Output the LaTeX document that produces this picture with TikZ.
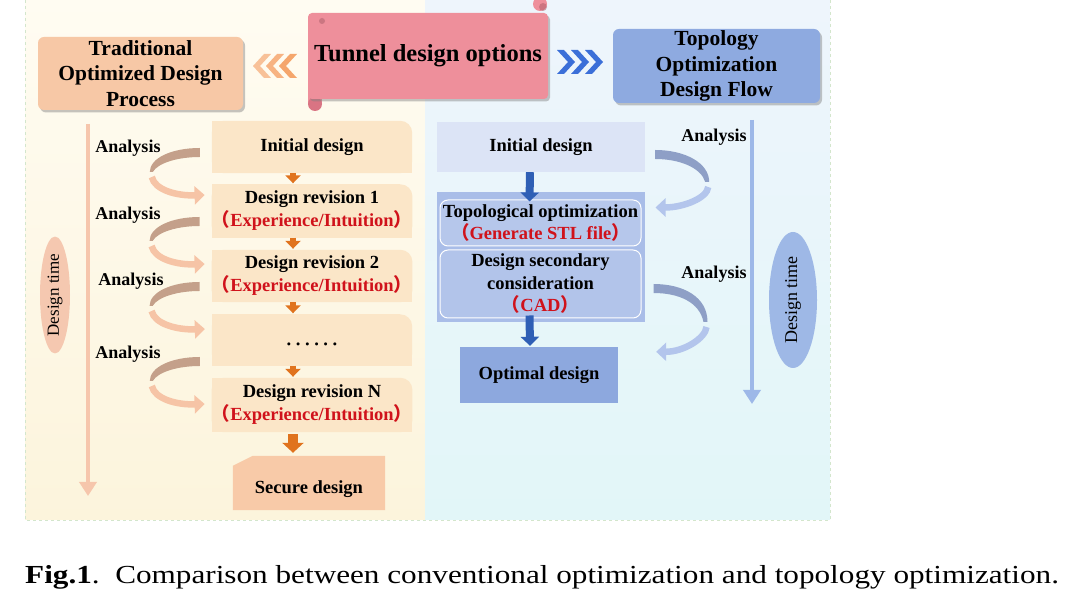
\documentclass[tikz,border=0pt]{standalone}
\usepackage{fontspec}
\setmainfont{Liberation Serif}
\newfontfamily\cjk{Noto Sans CJK SC}
\usetikzlibrary{arrows.meta,shadows,calc,shapes.geometric}
\pgfdeclarelayer{back}\pgfdeclarelayer{mid}\pgfsetlayers{back,mid,main}
\definecolor{lbg1}{HTML}{FFFCF2}
\definecolor{lbg2}{HTML}{FCF4DC}
\definecolor{rbg1}{HTML}{EEF5FC}
\definecolor{rbg2}{HTML}{E2F6F8}
\definecolor{lboxc}{HTML}{FBE6C8}
\definecolor{secc}{HTML}{F8CAA8}
\definecolor{peachH}{HTML}{F7C8A6}
\definecolor{pinkH}{HTML}{EE8F9B}
\definecolor{pinkD}{HTML}{D97483}
\definecolor{blueH}{HTML}{8EAAE0}
\definecolor{rinitc}{HTML}{DCE4F6}
\definecolor{bigc}{HTML}{A9BDE8}
\definecolor{optc}{HTML}{8DA8DE}
\definecolor{redT}{HTML}{D0121B}
\definecolor{orArr}{HTML}{E0731E}
\definecolor{blArr}{HTML}{2F5FB5}
\definecolor{lbrown}{HTML}{C4A08A}
\definecolor{lpeach}{HTML}{F6C4A6}
\definecolor{rdark}{HTML}{8E9FC6}
\definecolor{rlight}{HTML}{B3C5EC}
\definecolor{laxis}{HTML}{F6C6AC}
\definecolor{raxis}{HTML}{9DB8E8}
\definecolor{lell}{HTML}{F5C8B0}
\definecolor{rell}{HTML}{9EB8E6}
\definecolor{chevO}{HTML}{F5A66C}
\definecolor{chevB}{HTML}{3B6FD8}
\definecolor{dashc}{HTML}{D3E6CC}
\tikzset{
  txt/.style={align=center, inner sep=0pt, font=\bfseries\fontsize{18.5}{23}\selectfont},
  lbox/.style={txt, minimum width=200, minimum height=52},
  hdr/.style={align=center, inner sep=0pt, font=\bfseries\fontsize{21.5}{25.5}\selectfont,
     rounded corners=6, drop shadow={shadow xshift=2pt, shadow yshift=-2.5pt, opacity=0.45}},
  ana/.style={font=\bfseries\fontsize{18}{20}\selectfont, inner sep=0pt},
  smallarrL/.style={orArr, line width=6, -{Triangle[length=8pt,width=15pt]}},
  smallarrR/.style={blArr, line width=8, -{Triangle[length=9pt,width=18pt]}},
  timeell/.style={ellipse, inner sep=0pt, font=\fontsize{17}{19}\selectfont, rotate=90},
}
\newcommand\red[1]{\textcolor{redT}{{\cjk （}#1{\cjk ）}}}
% box with rounded top-right corner
\newcommand\tabfill[2]{%
  \fill[#2, rounded corners=12] (#1.south west) rectangle (#1.north east);
  \fill[#2] (#1.south west) rectangle ([xshift=-12pt]#1.north east);
  \fill[#2] (#1.south west) rectangle ([yshift=-12pt]#1.north east);
}
% left loop: #1 start, #2 end
\newcommand\lloop[2]{%
  \fill[lbrown] (#1) .. controls ($(#1)+(-28,0)$) and ($(#1)+(-50,10)$) .. ($(#1)+(-50,24)$)
     -- ($(#1)+(-47,24)$) .. controls ($(#1)+(-42,15)$) and ($(#1)+(-22,9)$) .. ($(#1)+(0,9)$) -- cycle;
  \draw[lpeach, line width=6.5, -{Triangle[length=10pt,width=18pt]}]
     ($(#1)+(-48,29)$) .. controls ($(#1)+(-45,42)$) and ($(#2)+(-28,1)$) .. (#2);
}
% right loop
\newcommand\rloop[3]{%
  \fill[rdark] (#1) .. controls ($(#1)+(30,0)$) and ($(#1)+(54,13)$) .. ($(#1)+(54,#3)$)
     -- ($(#1)+(50,#3)$) .. controls ($(#1)+(46,18)$) and ($(#1)+(25,9)$) .. ($(#1)+(0,9)$) -- cycle;
  \draw[rlight, line width=6.5, -{Triangle[length=10pt,width=18pt]}]
     ($(#1)+(53,#3+5)$) .. controls ($(#1)+(52,#3+16)$) and ($(#2)+(28,0)$) .. (#2);
}
\newcommand\chevL[3]{% x, y, color
  \fill[#3] (#1,#2) -- (#1+11,#2-12) -- (#1+18,#2-12) -- (#1+7,#2) -- (#1+18,#2+12) -- (#1+11,#2+12) -- cycle;}
\newcommand\chevR[3]{%
  \fill[#3] (#1,#2) -- (#1-11,#2-12) -- (#1-18,#2-12) -- (#1-7,#2) -- (#1-18,#2+12) -- (#1-11,#2+12) -- cycle;}
\begin{document}
\begin{tikzpicture}[x=1pt,y=-1pt]
\useasboundingbox (0,0) rectangle (1080,601);
\begin{pgfonlayer}{back}
  \fill[white] (0,0) rectangle (1080,601);
  \shade[top color=lbg1, bottom color=lbg2] (25,0) rectangle (425,520);
  \shade[top color=rbg1, bottom color=rbg2] (425,0) rectangle (830,520);
  \draw[dashc, dashed, line width=0.8] (25,0) -- (25,520) -- (830,520) -- (830,0);
\end{pgfonlayer}

% headers
\node[hdr, fill=peachH, minimum width=205, minimum height=73] (trad) at (140.5,73.5)
  {Traditional\\Optimized Design\\Process};
\fill[pinkH] (308,90) rectangle (322,104);
\fill[pinkD] (315,104) circle (7);
\fill[pinkH] (540,4) circle (7);
\fill[pinkD!80!black, opacity=0.5] (543,7) circle (4);
\node[hdr, fill=pinkH, rounded corners=4, minimum width=240, minimum height=86,
      font=\bfseries\fontsize{24.5}{28}\selectfont] (tunnel) at (428,56) {Tunnel design options};
\fill[pinkD!70!black, opacity=0.4] (322,21) circle (3);
\node[hdr, fill=blueH, minimum width=207, minimum height=74] (topo) at (716.5,66)
  {Topology\\Optimization\\Design Flow};
\chevL{253}{66}{chevO!70}
\chevL{266}{66}{chevO!85}
\chevL{279}{66}{chevO}
\chevR{575}{62}{chevB}
\chevR{589}{62}{chevB}
\chevR{603}{62}{chevB}

% left column
\node[lbox] (init) at (312,147) {Initial design};
\node[lbox, minimum height=53] (rev1) at (312,211) {Design revision 1\\\red{Experience/Intuition}};
\node[lbox] (rev2) at (312,276) {Design revision 2\\\red{Experience/Intuition}};
\node[lbox, minimum height=51] (dots) at (312,340) {};
\node[txt] (dotsT) at ($(dots.center)+(0,7)$) {\textperiodcentered\,\textperiodcentered\,\textperiodcentered\,\textperiodcentered\,\textperiodcentered\,\textperiodcentered};
\node[lbox, minimum height=54] (revN) at (312,405) {Design revision N\\\red{Experience/Intuition}};
\node[txt, minimum width=152, minimum height=54] (sec) at (309,489) {Secure design};
\begin{pgfonlayer}{mid}
  \tabfill{init}{lboxc}
  \tabfill{rev1}{lboxc}
  \tabfill{rev2}{lboxc}
  \tabfill{dots}{lboxc}
  \tabfill{revN}{lboxc}
  \fill[secc] ([yshift=6pt]sec.south west) -- ([yshift=-4pt]sec.north west) -- ([xshift=20pt,yshift=6pt]sec.north west) -- ([yshift=6pt]sec.north east) -- ([yshift=6pt]sec.south east) -- cycle;
\end{pgfonlayer}
\draw[smallarrL] ([xshift=-19pt]init.south) -- ([xshift=-19pt,yshift=1pt]rev1.north);
\draw[smallarrL] ([xshift=-19pt]rev1.south) -- ([xshift=-19pt,yshift=1pt]rev2.north);
\draw[smallarrL] ([xshift=-19pt]rev2.south) -- ([xshift=-19pt,yshift=1pt]dots.north);
\draw[smallarrL] ([xshift=-19pt]dots.south) -- ([xshift=-19pt,yshift=1pt]revN.north);
\draw[orArr, line width=10, -{Triangle[length=10pt,width=21pt]}] ([xshift=-19pt,yshift=-2pt]revN.south) -- ([xshift=-16pt,yshift=9pt]sec.north);

% left time axis
\coordinate (lt1) at (88,124);
\coordinate (lt2) at (88,496);
\draw[laxis, line width=4.5, -{Triangle[length=14pt,width=17pt]}] (lt1) -- (lt2);
\node[timeell, fill=lell, minimum width=102, minimum height=30] (lell) at (55,295) {Design time};

% left analysis labels and loops
\node[ana] (a1) at (128,148) {Analysis};
\node[ana] (a2) at (128,215) {Analysis};
\node[ana] (a3) at (131,281) {Analysis};
\node[ana] (a4) at (128,354) {Analysis};
\coordinate (l1s) at ($(init.west)+(-12,1)$);  \coordinate (l1e) at ($(rev1.west)+(-7,-16)$);
\coordinate (l2s) at ($(rev1.west)+(-12,6)$);  \coordinate (l2e) at ($(rev2.west)+(-7,-12)$);
\coordinate (l3s) at ($(rev2.west)+(-12,6)$);  \coordinate (l3e) at ($(dots.west)+(-7,-11)$);
\coordinate (l4s) at ($(dots.west)+(-12,17)$); \coordinate (l4e) at ($(revN.west)+(-7,-1)$);
\lloop{l1s}{l1e}
\lloop{l2s}{l2e}
\lloop{l3s}{l3e}
\lloop{l4s}{l4e}

% right column
\node[txt, minimum width=208, minimum height=50] (rinit) at (541,147) {Initial design};
\fill[bigc] (437,192) rectangle (645,322);
\node[txt, font=\bfseries\fontsize{18.5}{22}\selectfont, draw=white, line width=1, rounded corners=8,
      minimum width=201, minimum height=46, fill=bigc!85!white] (topt) at (540.5,223)
  {Topological optimization\\\red{Generate STL file}};
\node[txt, font=\bfseries\fontsize{18.5}{22.5}\selectfont, draw=white, line width=1, rounded corners=8,
      minimum width=201, minimum height=68, fill=bigc!90!white] (sec2) at (540.5,284)
  {Design secondary\\consideration\\\red{CAD}};
\node[txt, minimum width=158, minimum height=56, fill=optc] (opt) at (539,375) {Optimal design};
\begin{pgfonlayer}{mid}
  \fill[rinitc] (rinit.south west) rectangle (rinit.north east);
\end{pgfonlayer}
\draw[smallarrR] ([xshift=-11pt]rinit.south) -- ([xshift=-11pt,yshift=-2pt]topt.north);
\draw[smallarrR] ([xshift=-11pt,yshift=3pt]sec2.south) -- ([xshift=-9pt,yshift=1pt]opt.north);

\coordinate (rt1) at (752,120);
\coordinate (rt2) at (752,404);
\draw[raxis, line width=4.5, -{Triangle[length=14pt,width=17pt]}] (rt1) -- (rt2);
\node[timeell, fill=rell, minimum width=136, minimum height=48, font=\fontsize{18}{20}\selectfont] (rell) at (793,300) {Design time};

\node[ana] (ra1) at (714,137) {Analysis};
\node[ana] (ra2) at (714,274) {Analysis};
\coordinate (r1s) at ($(rinit.east)+(10,3)$); \coordinate (r1e) at ($(topt.north east)+(14,8)$);
\coordinate (r2s) at ($(sec2.east)+(12,0)$);  \coordinate (r2e) at ($(opt.north east)+(38,5)$);
\rloop{r1s}{r1e}{32}
\rloop{r2s}{r2e}{38}

% caption
\node[anchor=west, inner sep=0pt, font=\fontsize{26}{30}\selectfont] (cap) at (25,577)
  {\scalebox{1.2}[1]{\textbf{Fig.1}.\ \ Comparison between conventional optimization and topology optimization.}};
\end{tikzpicture}
\end{document}
